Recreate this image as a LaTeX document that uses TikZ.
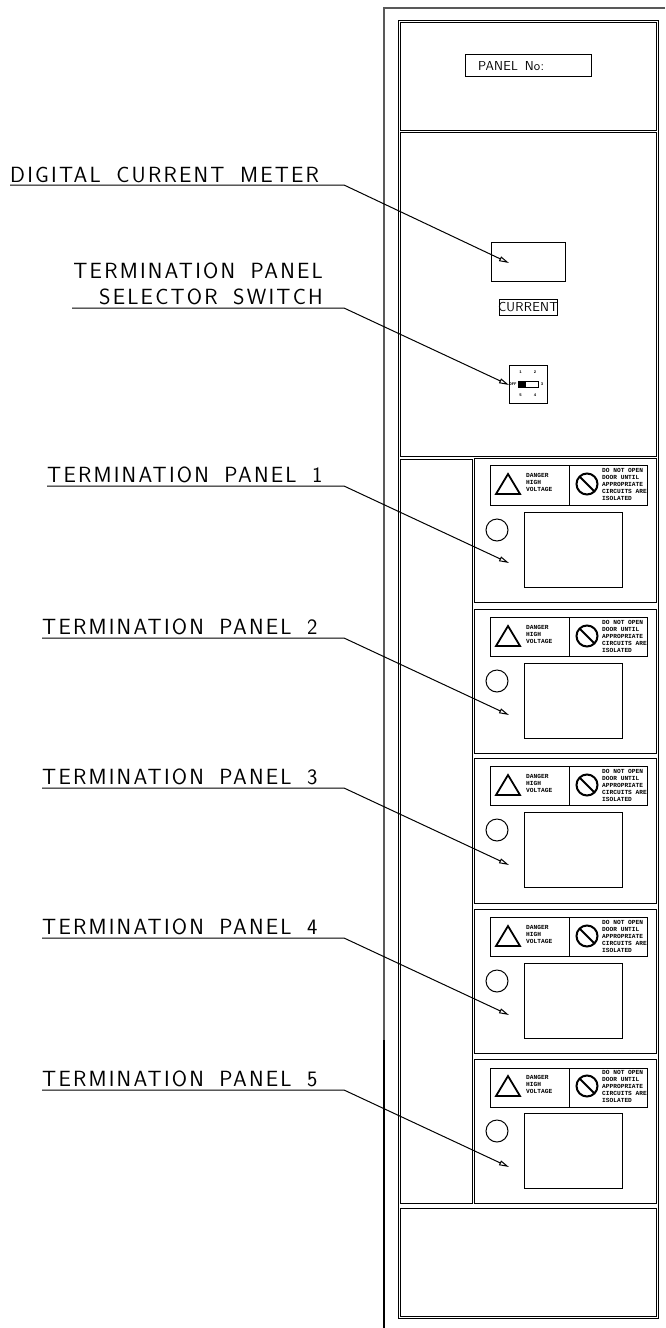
\documentclass[tikz,border=0pt]{standalone}
\usepackage{fontspec}
\setsansfont{Latin Modern Sans}[LetterSpace=10,WordSpace=1.7]
\newfontfamily\platefont{Latin Modern Sans}[LetterSpace=2,WordSpace=1.5]
\newfontfamily\signfont{Liberation Mono}
\usetikzlibrary{arrows.meta}

\begin{document}
\begin{tikzpicture}
		[x=1pt,y=-1pt,
		frame/.style ={draw=black, line width=1pt},
		greyframe/.style ={draw=black!65, line width=1.6pt},
		callout/.style ={inner sep=0pt, font=\sffamily\fontsize{22}{26}\selectfont},
		leader/.style ={draw, line width=1pt, -{Triangle[open,length=10pt,width=5pt]}},
		sign/.style ={inner sep=0pt, align=left, anchor=north west, font=\signfont\bfseries\fontsize{6.2}{7}\selectfont},
		plate/.style ={inner sep=0pt, font=\platefont\fontsize{13}{15}\selectfont},
		tiny/.style ={inner sep=0pt, font=\signfont\bfseries\fontsize{4}{4}\selectfont},
		]
		\useasboundingbox (0,0) rectangle (665,1328);

		\draw[greyframe] (665,8) -- (384,8) -- (384,1040);
		\draw[draw=black, line width=2.4pt] (384,1040) -- (384,1328);

		\draw[frame] (398,20) rectangle (658,1318);
		\draw[frame] (400,22) rectangle (656,130);
		\draw[frame] (400,132) rectangle (656,456);
		\draw[frame] (400,459) rectangle (472.5,1203);
		\draw[frame] (400,1208) rectangle (656,1316);

		\draw[frame] (465,54) rectangle (591,76);
		\draw (478,70) node[plate, anchor=base west] (PanelNo) {PANEL No:};

		\draw[frame] (491,242) rectangle (565,281);
		\draw[frame] (499,299) rectangle (557,315);
		\draw (528,307) node[plate] (Current) {CURRENT};

		\draw[frame] (509,365) rectangle (547,403);
		\draw[frame] (518,381) rectangle (538,387);
		\fill (518,381) rectangle (526,387);
		\draw (520.5,372) node[tiny] (Sw1) {1};
		\draw (535,372) node[tiny] (Sw2) {2};
		\draw (513,384) node[tiny] (SwOff) {OFF};
		\draw (542,384) node[tiny] (Sw3) {3};
		\draw (520.5,395) node[tiny] (Sw5) {5};
		\draw (535,395) node[tiny] (Sw4) {4};

		\draw[frame] (474.5,458) rectangle (656,602);
		\draw[frame] (490,465) rectangle (647,505);
		\draw[frame] (569,465) -- (569,505);
		\draw[frame] (524,512) rectangle (622,587);
		\draw[frame] (497,530) circle (11);
		\draw[line width=1.8pt, line join=miter] (508,474) -- (520,494) -- (496,494) -- cycle;
		\draw[line width=2pt] (587,484) circle (10.5);
		\draw[line width=2pt] (579.6,476.6) -- (594.4,491.4);
		\draw (526,473) node[sign] (Danger1) {DANGER\\HIGH\\VOLTAGE};
		\draw (602,468) node[sign] (Door1) {DO NOT OPEN\\DOOR UNTIL\\APPROPRIATE\\CIRCUITS ARE\\ISOLATED};

		\draw[frame] (474.5,609) rectangle (656,753);
		\draw[frame] (490,617) rectangle (647,656);
		\draw[frame] (569,617) -- (569,656);
		\draw[frame] (524,663) rectangle (622,738);
		\draw[frame] (497,681) circle (11);
		\draw[line width=1.8pt, line join=miter] (508,626) -- (520,646) -- (496,646) -- cycle;
		\draw[line width=2pt] (587,636) circle (10.5);
		\draw[line width=2pt] (579.6,628.6) -- (594.4,643.4);
		\draw (526,625) node[sign] (Danger2) {DANGER\\HIGH\\VOLTAGE};
		\draw (602,620) node[sign] (Door2) {DO NOT OPEN\\DOOR UNTIL\\APPROPRIATE\\CIRCUITS ARE\\ISOLATED};

		\draw[frame] (474.5,758) rectangle (656,903);
		\draw[frame] (490,766) rectangle (647,805);
		\draw[frame] (569,766) -- (569,805);
		\draw[frame] (524,812) rectangle (622,887);
		\draw[frame] (497,830) circle (11);
		\draw[line width=1.8pt, line join=miter] (508,775) -- (520,795) -- (496,795) -- cycle;
		\draw[line width=2pt] (587,785) circle (10.5);
		\draw[line width=2pt] (579.6,777.6) -- (594.4,792.4);
		\draw (526,774) node[sign] (Danger3) {DANGER\\HIGH\\VOLTAGE};
		\draw (602,769) node[sign] (Door3) {DO NOT OPEN\\DOOR UNTIL\\APPROPRIATE\\CIRCUITS ARE\\ISOLATED};

		\draw[frame] (474.5,909) rectangle (656,1053);
		\draw[frame] (490,917) rectangle (647,956);
		\draw[frame] (569,917) -- (569,956);
		\draw[frame] (524,963) rectangle (622,1038);
		\draw[frame] (497,981) circle (11);
		\draw[line width=1.8pt, line join=miter] (508,926) -- (520,946) -- (496,946) -- cycle;
		\draw[line width=2pt] (587,936) circle (10.5);
		\draw[line width=2pt] (579.6,928.6) -- (594.4,943.4);
		\draw (526,925) node[sign] (Danger4) {DANGER\\HIGH\\VOLTAGE};
		\draw (602,920) node[sign] (Door4) {DO NOT OPEN\\DOOR UNTIL\\APPROPRIATE\\CIRCUITS ARE\\ISOLATED};

		\draw[frame] (474.5,1059) rectangle (656,1203);
		\draw[frame] (490,1068) rectangle (647,1107);
		\draw[frame] (569,1068) -- (569,1107);
		\draw[frame] (524,1113) rectangle (622,1188);
		\draw[frame] (497,1131) circle (11);
		\draw[line width=1.8pt, line join=miter] (508,1076) -- (520,1096) -- (496,1096) -- cycle;
		\draw[line width=2pt] (587,1086) circle (10.5);
		\draw[line width=2pt] (579.6,1078.6) -- (594.4,1093.4);
		\draw (526,1075) node[sign] (Danger5) {DANGER\\HIGH\\VOLTAGE};
		\draw (602,1070) node[sign] (Door5) {DO NOT OPEN\\DOOR UNTIL\\APPROPRIATE\\CIRCUITS ARE\\ISOLATED};

		\draw (10,182) node[callout, anchor=base west] (Meter) {DIGITAL CURRENT METER};
		\draw (323,304) node[callout, anchor=base east, align=right] (Selector) {TERMINATION PANEL\\SELECTOR SWITCH};
		\draw (47,482) node[callout, anchor=base west] (Term1) {TERMINATION PANEL 1};
		\draw (42,634) node[callout, anchor=base west] (Term2) {TERMINATION PANEL 2};
		\draw (42,784) node[callout, anchor=base west] (Term3) {TERMINATION PANEL 3};
		\draw (42,934) node[callout, anchor=base west] (Term4) {TERMINATION PANEL 4};
		\draw (42,1086) node[callout, anchor=base west] (Term5) {TERMINATION PANEL 5};

		\coordinate (MeterKnee) at (344,185);
		\coordinate (MeterTip) at (509,263);
		\coordinate (SelectorKnee) at (344,308);
		\coordinate (SelectorTip) at (509,385);
		\coordinate (Knee1) at (344,486);
		\coordinate (Tip1) at (509,563);
		\coordinate (Knee2) at (344,638);
		\coordinate (Tip2) at (509,715);
		\coordinate (Knee3) at (344,788);
		\coordinate (Tip3) at (509,865);
		\coordinate (Knee4) at (344,938);
		\coordinate (Tip4) at (509,1015);
		\coordinate (Knee5) at (344,1090);
		\coordinate (Tip5) at (509,1167);

		\path[leader] (Meter.west |- MeterKnee) -- (MeterKnee) -- (MeterTip);
		\path[leader] (72,308) -- (SelectorKnee) -- (SelectorTip);
		\path[leader] (Term1.west |- Knee1) -- (Knee1) -- (Tip1);
		\path[leader] (Term2.west |- Knee2) -- (Knee2) -- (Tip2);
		\path[leader] (Term3.west |- Knee3) -- (Knee3) -- (Tip3);
		\path[leader] (Term4.west |- Knee4) -- (Knee4) -- (Tip4);
		\path[leader] (Term5.west |- Knee5) -- (Knee5) -- (Tip5);
	\end{tikzpicture}
\end{document}
